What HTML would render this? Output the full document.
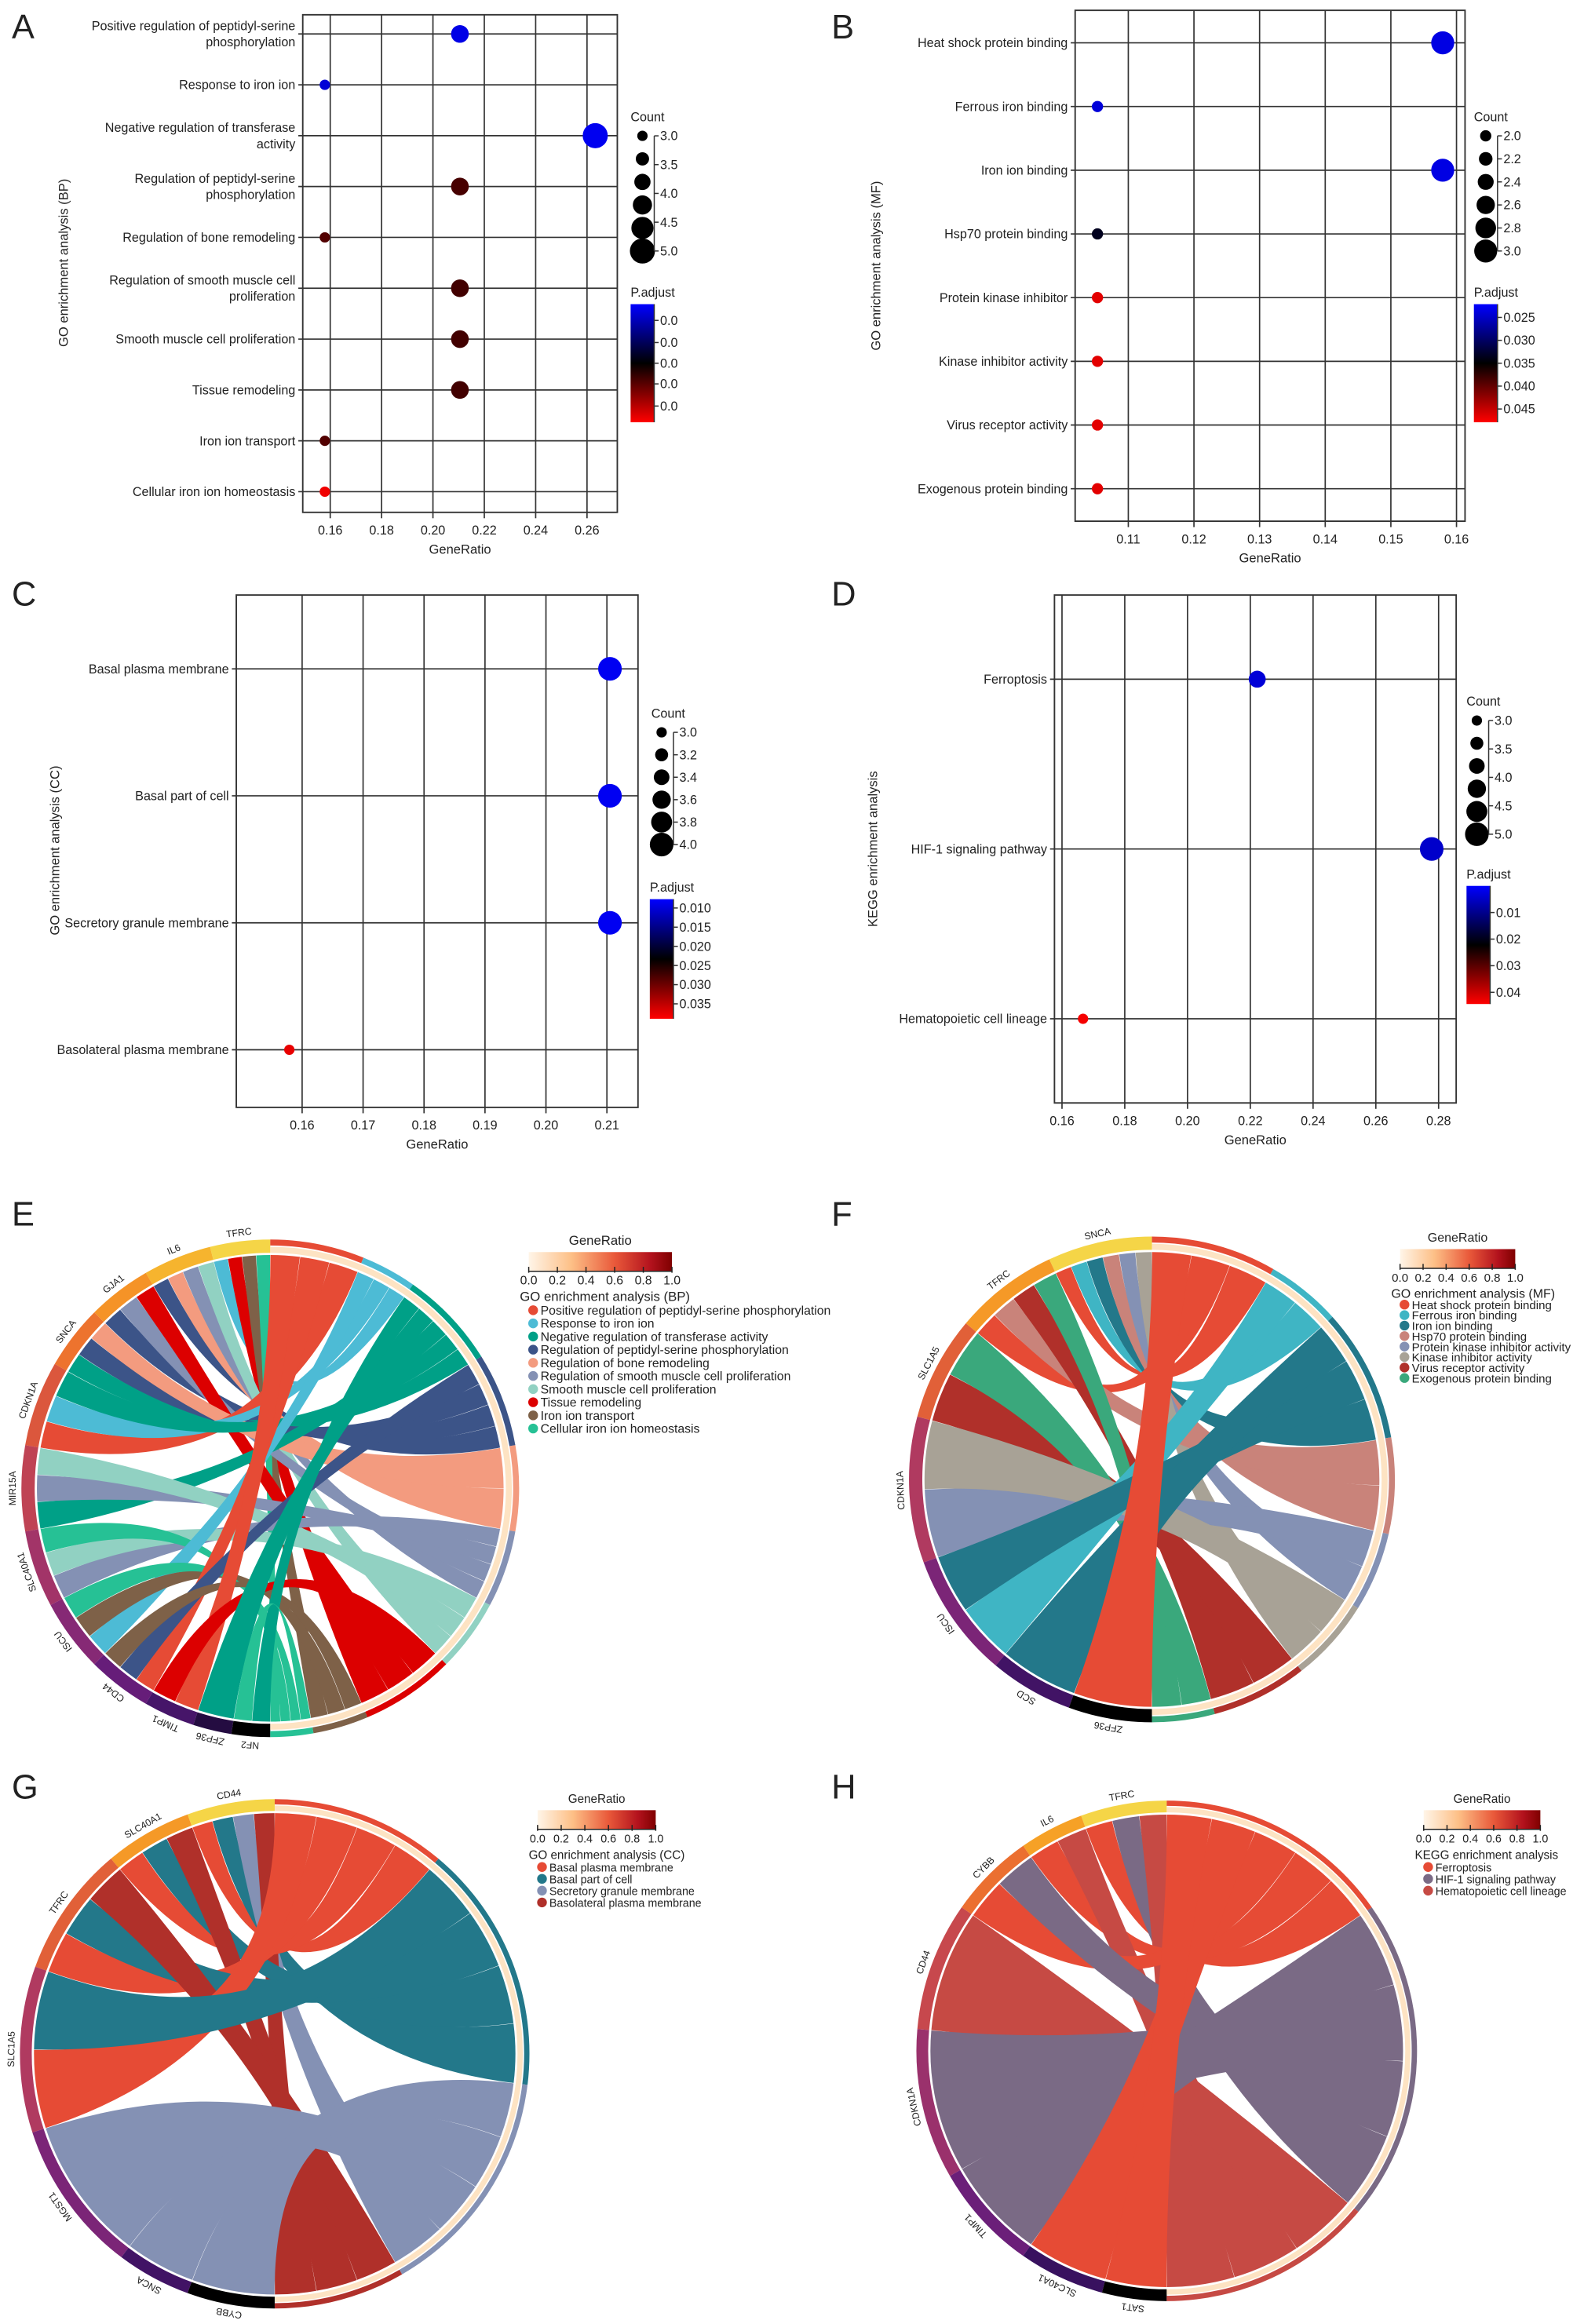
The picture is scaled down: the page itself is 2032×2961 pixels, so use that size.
<!DOCTYPE html>
<html><head><meta charset="utf-8">
<style>
html,body{margin:0;padding:0;background:#fff}
svg{display:block}
text{font-family:"Liberation Sans",sans-serif;fill:#222}
</style></head>
<body>
<svg id="fig" width="2032" height="2961" viewBox="0 0 1080 1574" preserveAspectRatio="none" xmlns="http://www.w3.org/2000/svg">
<defs>
<linearGradient id="padjGrad" x1="0" y1="0" x2="0" y2="1">
<stop offset="0" stop-color="#0000ff"/><stop offset="0.5" stop-color="#000000"/><stop offset="1" stop-color="#ff0000"/>
</linearGradient>
<linearGradient id="ratioGrad" x1="0" y1="0" x2="1" y2="0">
<stop offset="0" stop-color="#fff5e8"/><stop offset="0.3" stop-color="#fdbf86"/><stop offset="0.6" stop-color="#e9593a"/><stop offset="0.85" stop-color="#b3121d"/><stop offset="1" stop-color="#7f0000"/>
</linearGradient>
</defs>
</svg>
<script>
// ---------- DATA ----------
const aTerms=["Positive regulation of peptidyl-serine\nphosphorylation","Response to iron ion","Negative regulation of transferase\nactivity","Regulation of peptidyl-serine\nphosphorylation","Regulation of bone remodeling","Regulation of smooth muscle cell\nproliferation","Smooth muscle cell proliferation","Tissue remodeling","Iron ion transport","Cellular iron ion homeostasis"];
const aRatio=[0.2105,0.1579,0.2632,0.2105,0.1579,0.2105,0.2105,0.2105,0.1579,0.1579];
const aCount=[4,3,5,4,3,4,4,4,3,3];
const aPadj=[0.05,0.08,0.03,0.64,0.66,0.63,0.63,0.63,0.66,0.97];
const aXTicks=[0.16,0.18,0.20,0.22,0.24,0.26];
const aCntTicks=[3.0,3.5,4.0,4.5,5.0];
const aPTicks=[0.1375,0.325,0.5,0.675,0.8625];
const aPLabels=["0.0","0.0","0.0","0.0","0.0"];

const bTerms=["Heat shock protein binding","Ferrous iron binding","Iron ion binding","Hsp70 protein binding","Protein kinase inhibitor","Kinase inhibitor activity","Virus receptor activity","Exogenous protein binding"];
const bRatio=[0.1579,0.1053,0.1579,0.1053,0.1053,0.1053,0.1053,0.1053];
const bCount=[3,2,3,2,2,2,2,2];
const bPadj=[0.0235,0.0240,0.0235,0.0335,0.0465,0.0465,0.0465,0.0465];
const bXTicks=[0.11,0.12,0.13,0.14,0.15,0.16];
const bCntTicks=[2.0,2.2,2.4,2.6,2.8,3.0];
const bPTicks=[0.025,0.030,0.035,0.040,0.045];
const bPLabels=["0.025","0.030","0.035","0.040","0.045"];

const cTerms=["Basal plasma membrane","Basal part of cell","Secretory granule membrane","Basolateral plasma membrane"];
const cRatio=[0.2105,0.2105,0.2105,0.1579];
const cCount=[4,4,4,3];
const cPadj=[0.0085,0.0085,0.0085,0.0375];
const cXTicks=[0.16,0.17,0.18,0.19,0.20,0.21];
const cCntTicks=[3.0,3.2,3.4,3.6,3.8,4.0];
const cPTicks=[0.010,0.015,0.020,0.025,0.030,0.035];
const cPLabels=["0.010","0.015","0.020","0.025","0.030","0.035"];

const dTerms=["Ferroptosis","HIF-1 signaling pathway","Hematopoietic cell lineage"];
const dRatio=[0.2222,0.2778,0.1667];
const dCount=[4,5,3];
const dPadj=[0.0035,0.0045,0.0435];
const dXTicks=[0.16,0.18,0.20,0.22,0.24,0.26,0.28];
const dCntTicks=[3.0,3.5,4.0,4.5,5.0];
const dPTicks=[0.01,0.02,0.03,0.04];
const dPLabels=["0.01","0.02","0.03","0.04"];

const eGenes=["TFRC","IL6","GJA1","SNCA","CDKN1A","MIR15A","SLC40A1","ISCU","CD44","TIMP1","ZFP36","NF2"];
const eGeneW=[14,16,15,15,20,20,18,17,15,12,9,9];
const eTerms=aTerms.map(s=>s.replace("\n"," "));
const eTermW=[22,13,23,22,20,18,17,22,13,10];
const eLinks=[[0,1],[0,7],[0,8],[0,9],[1,3],[1,4],[1,5],[1,6],[2,3],[2,5],[2,7],[3,2],[3,3],[3,4],[4,0],[4,1],[4,2],[5,2],[5,5],[5,6],[6,5],[6,6],[6,9],[7,1],[7,8],[7,9],[8,0],[8,3],[8,8],[9,0],[9,7],[10,2],[11,2],[11,9]];

const fGenes=["SNCA","TFRC","SLC1A5","CDKN1A","ISCU","SCD","ZFP36"];
const fGeneW=[25,25,25,35,30,20,20];
const fTerms=["Heat shock protein binding","Ferrous iron binding","Iron ion binding","Hsp70 protein binding","Protein kinase inhibitor activity","Kinase inhibitor activity","Virus receptor activity","Exogenous protein binding"];
const fTermW=[30,18,32,23,19,20,23,15];
const fLinks=[[0,0],[0,1],[0,2],[0,3],[0,4],[0,5],[1,0],[1,3],[1,6],[1,7],[2,6],[2,7],[3,4],[3,5],[4,1],[4,2],[5,2],[6,0]];

const gGenes=["CD44","SLC40A1","TFRC","SLC1A5","MGST1","SNCA","CYBB"];
const gGeneW=[20,20,30,38,35,17,20];
const gTerms=["Basal plasma membrane","Basal part of cell","Secretory granule membrane","Basolateral plasma membrane"];
const gTermW=[40,57,53,30];
const gLinks=[[0,0],[0,1],[0,2],[0,3],[1,0],[1,1],[1,3],[2,0],[2,1],[2,3],[3,0],[3,1],[4,2],[5,2],[6,2]];

const hGenes=["TFRC","IL6","CYBB","CD44","CDKN1A","TIMP1","SLC40A1","SAT1"];
const hGeneW=[20,15,20,30,35,25,20,15];
const hTerms=["Ferroptosis","HIF-1 signaling pathway","Hematopoietic cell lineage"];
const hTermW=[55,75,50];
const hLinks=[[0,0],[0,1],[0,2],[1,0],[1,2],[2,0],[2,1],[3,2],[4,1],[5,1],[6,0],[7,0]];

const ratioTicks=[0.0,0.2,0.4,0.6,0.8,1.0];

// ---------- RENDER ----------
const NS='http://www.w3.org/2000/svg';
const svg=document.getElementById('fig');
function mk(tag,attrs,parent,txt){const e=document.createElementNS(NS,tag);for(const k in attrs)e.setAttribute(k,attrs[k]);if(txt!==undefined)e.textContent=txt;(parent||svg).appendChild(e);return e;}
function hex(c){return '#'+c.map(v=>Math.round(Math.max(0,Math.min(255,v))).toString(16).padStart(2,'0')).join('');}
function padjColor(t){t=Math.max(0,Math.min(1,t));if(t<=0.5){const u=t/0.5;return hex([0,0,255*(1-u)]);}const u=(t-0.5)/0.5;return hex([255*u,0,0]);}

function drawDot(id,terms,ratio,count,padj,xticks,cntTicks,pTicks,pLabels,L){
  const g=mk('g',{});
  
  
  const bx=L.box[0],by=L.box[1],bw=L.box[2],bh=L.box[3];
  const xs=v=>bx+(v-L.xdom[0])/(L.xdom[1]-L.xdom[0])*bw;
  const n=terms.length;
  const ys=i=>n===1?(L.rows[0]+L.rows[1])/2:L.rows[0]+i*(L.rows[1]-L.rows[0])/(n-1);
  xticks.forEach(v=>{
    const ln=mk('line',{x1:xs(v),x2:xs(v),y1:by,y2:by+bh,stroke:'#333','stroke-width':0.9},g);
    
    
    const tk=mk('line',{x1:xs(v),x2:xs(v),y1:by+bh,y2:by+bh+4,stroke:'#333','stroke-width':0.9},g);
    
    
    const tl=mk('text',{x:xs(v),y:by+bh+15,'font-size':8.6,'text-anchor':'middle'},g,v.toFixed(2));
    
    
  });
  terms.forEach((t,i)=>{
    const y=ys(i);
    const ln=mk('line',{x1:bx-3,x2:bx+bw,y1:y,y2:y,stroke:'#333','stroke-width':0.9},g);
    
    
    const lines=t.split('\n');
    lines.forEach((s,k)=>{
      const tx=mk('text',{x:bx-5,y:y+(k-(lines.length-1)/2)*11+3,'font-size':8.6,'text-anchor':'end'},g,s);
      
      
    });
  });
  const box=mk('rect',{x:bx,y:by,width:bw,height:bh,fill:'none',stroke:'#333','stroke-width':1},g);
  
  
  const xt=mk('text',{x:bx+bw/2,y:by+bh+28,'font-size':8.8,'text-anchor':'middle'},g,'GeneRatio');
  
  
  const yt=mk('text',{x:0,y:0,'font-size':8.8,'text-anchor':'middle',transform:`translate(${L.ytitle[0]},${L.ytitle[1]}) rotate(-90)`},g,L.ytitleText);
  
  
  const cmin=cntTicks[0],cmax=cntTicks[cntTicks.length-1];
  const rs=c=>L.r[0]+(c-cmin)/(cmax-cmin)*(L.r[1]-L.r[0]);
  const pt=p=>(p-L.pdom[0])/(L.pdom[1]-L.pdom[0]);
  terms.forEach((t,i)=>{
    const c=mk('circle',{cx:xs(ratio[i]),cy:ys(i),r:rs(count[i]),fill:padjColor(pt(padj[i]))},g);
    
    
  });
  const C=L.cnt;
  const ct=mk('text',{x:C.tx,y:C.ty,'font-size':8.6},g,'Count');
  
  
  const cy=v=>C.y0+(v-cmin)/(cmax-cmin)*(C.y1-C.y0);
  for(let k=0;k<6;k++){
    const v=cmin+k*(cmax-cmin)/5;
    const lc=mk('circle',{cx:C.cx,cy:cy(v),r:rs(v),fill:'#000'},g);
    
    
  }
  const br=mk('line',{x1:C.cx+8,x2:C.cx+8,y1:cy(cmin),y2:cy(cmax),stroke:'#333','stroke-width':0.8},g);
  
  
  cntTicks.forEach(v=>{
    mk('line',{x1:C.cx+8,x2:C.cx+11,y1:cy(v),y2:cy(v),stroke:'#333','stroke-width':0.8},g);
    const lt=mk('text',{x:C.cx+12,y:cy(v)+3,'font-size':8.6},g,v.toFixed(1));
    
    
  });
  const P=L.pbar;
  const pt2=mk('text',{x:P[0],y:P[1]-5,'font-size':8.6},g,'P.adjust');
  
  
  const bar=mk('rect',{x:P[0],y:P[1],width:P[2],height:P[3],fill:'url(#padjGrad)'},g);
  
  
  mk('line',{x1:P[0]+P[2],x2:P[0]+P[2],y1:P[1],y2:P[1]+P[3],stroke:'#333','stroke-width':0.8},g);
  pTicks.forEach((v,k)=>{
    const y=P[1]+pt(v)*P[3];
    mk('line',{x1:P[0]+P[2],x2:P[0]+P[2]+3,y1:y,y2:y,stroke:'#333','stroke-width':0.8},g);
    const lt=mk('text',{x:P[0]+P[2]+4,y:y+3,'font-size':8.6},g,pLabels[k]);
    
    
  });
}

drawDot('panel-a',aTerms,aRatio,aCount,aPadj,aXTicks,aCntTicks,aPTicks,aPLabels,
 {box:[205,10,213,337],xdom:[0.1493,0.2718],rows:[23,333],ytitle:[46,178],ytitleText:'GO enrichment analysis (BP)',r:[3.5,8.5],pdom:[0,1],
  cnt:{tx:427,ty:82,cx:435,y0:92,y1:170},pbar:[427,206,16,80]});
drawDot('panel-b',bTerms,bRatio,bCount,bPadj,bXTicks,bCntTicks,bPTicks,bPLabels,
 {box:[728,7,264,346],xdom:[0.1019,0.1613],rows:[29,331],ytitle:[596,180],ytitleText:'GO enrichment analysis (MF)',r:[3.8,7.8],pdom:[0.0221,0.0479],
  cnt:{tx:998,ty:82,cx:1006,y0:92,y1:170},pbar:[998,206,16,80]});
drawDot('panel-c',cTerms,cRatio,cCount,cPadj,cXTicks,cCntTicks,cPTicks,cPLabels,
 {box:[160,403,272,347],xdom:[0.1492,0.2151],rows:[453,711],ytitle:[40,576],ytitleText:'GO enrichment analysis (CC)',r:[3.5,8],pdom:[0.0077,0.0389],
  cnt:{tx:441,ty:486,cx:448,y0:496,y1:572},pbar:[440,609,16,81]});
drawDot('panel-d',dTerms,dRatio,dCount,dPadj,dXTicks,dCntTicks,dPTicks,dPLabels,
 {box:[714,403,272,344],xdom:[0.1576,0.2856],rows:[460,690],ytitle:[594,575],ytitleText:'KEGG enrichment analysis',r:[3.5,8],pdom:[0,0.0444],
  cnt:{tx:993,ty:478,cx:1000,y0:488,y1:565},pbar:[993,600,16,80]});

// ---------- CHORDS ----------
const geneStops=[[245,213,71],[247,168,37],[242,122,42],[217,83,63],[176,58,96],[138,42,117],[94,26,122],[50,16,90],[0,0,0]];
function geneColor(f){const p=f*(geneStops.length-1);const i=Math.min(geneStops.length-2,Math.floor(p));const u=p-i;const a=geneStops[i],b=geneStops[i+1];return hex([a[0]+(b[0]-a[0])*u,a[1]+(b[1]-a[1])*u,a[2]+(b[2]-a[2])*u]);}
function P(cx,cy,r,t){return [cx+r*Math.sin(t),cy-r*Math.cos(t)];}
function annulus(cx,cy,r1,r2,t1,t2){
  const a=P(cx,cy,r2,t1),b=P(cx,cy,r2,t2),c=P(cx,cy,r1,t2),d=P(cx,cy,r1,t1);const lg=(t2-t1)>Math.PI?1:0;
  return `M${a[0]},${a[1]}A${r2},${r2} 0 ${lg} 1 ${b[0]},${b[1]}L${c[0]},${c[1]}A${r1},${r1} 0 ${lg} 0 ${d[0]},${d[1]}Z`;
}
function drawChord(id,cx,cy,R0,genes,geneW,terms,termW,links,tcol,gw){
  const g=mk('g',{});
  
  
  const gSum=geneW.reduce((a,b)=>a+b,0),tSum=termW.reduce((a,b)=>a+b,0);
  const gArc=geneW.map(w=>w/gSum*Math.PI),tArc=termW.map(w=>w/tSum*Math.PI);
  const gCount=genes.map((_,i)=>links.filter(l=>l[0]===i).length);
  const tCount=terms.map((_,j)=>links.filter(l=>l[1]===j).length);
  const gHi=[];let h=2*Math.PI;genes.forEach((_,i)=>{gHi.push(h);h-=gArc[i];});
  const tLo=[];let lo=0;terms.forEach((_,j)=>{tLo.push(lo);lo+=tArc[j];});
  const gi={},ti={};const gUsed=genes.map(()=>0),tUsed=terms.map(()=>0);
  links.map((l,k)=>({l,k})).sort((a,b)=>a.l[0]-b.l[0]||b.l[1]-a.l[1]).forEach(o=>{gi[o.k]=gUsed[o.l[0]]++;});
  links.map((l,k)=>({l,k})).sort((a,b)=>a.l[1]-b.l[1]||b.l[0]-a.l[0]).forEach(o=>{ti[o.k]=tUsed[o.l[1]]++;});
  const pad=0.0008;
  links.forEach((l,k)=>{
    const gu=gArc[l[0]]/gCount[l[0]],tu=tArc[l[1]]/tCount[l[1]];
    const a2=gHi[l[0]]-gi[k]*gu-pad,a1=gHi[l[0]]-(gi[k]+1)*gu+pad;
    const b1=tLo[l[1]]+ti[k]*tu+pad,b2=tLo[l[1]]+(ti[k]+1)*tu-pad;
    const A1=P(cx,cy,R0,a1),A2=P(cx,cy,R0,a2),B1=P(cx,cy,R0,b1),B2=P(cx,cy,R0,b2);
    const la=(a2-a1)>Math.PI?1:0,lb=(b2-b1)>Math.PI?1:0;
    const d=`M${A1[0]},${A1[1]}A${R0},${R0} 0 ${la} 1 ${A2[0]},${A2[1]}Q${cx},${cy} ${B1[0]},${B1[1]}A${R0},${R0} 0 ${lb} 1 ${B2[0]},${B2[1]}Q${cx},${cy} ${A1[0]},${A1[1]}Z`;
    const rb=mk('path',{d,fill:tcol[l[1]]},g);
    
    
  });
  genes.forEach((name,i)=>{
    const t2=gHi[i],t1=gHi[i]-gArc[i];
    const seg=mk('path',{d:annulus(cx,cy,R0+1.5,R0+1.5+gw,t1,t2),fill:geneColor(genes.length>1?i/(genes.length-1):0)},g);
    
    
    const tm=(t1+t2)/2,p=P(cx,cy,R0+gw+7,tm);
    const lb=mk('text',{x:0,y:0,'font-size':6.5,'text-anchor':'middle','dominant-baseline':'middle','font-family':'"Liberation Serif",serif',transform:`translate(${p[0]},${p[1]}) rotate(${tm*180/Math.PI-360})`},g,name);
    
    
  });
  const bg=mk('path',{d:annulus(cx,cy,R0+1.5,R0+1.5+gw*0.45,0.0001,Math.PI-0.0001),fill:'#fde3c3'},g);
  
  
  terms.forEach((name,j)=>{
    const t1=tLo[j],t2=tLo[j]+tArc[j];
    const seg=mk('path',{d:annulus(cx,cy,R0+1.5+gw*0.55,R0+1.5+gw,t1,t2),fill:tcol[j]},g);
    
    
  });
}
function chordLegend(id,x,y,w,title,terms,tcol,fs,step){
  const g=mk('g',{});
  
  
  const t=mk('text',{x:x+w/2,y:y,'font-size':fs+0.5,'text-anchor':'middle'},g,'GeneRatio');
  
  
  const bar=mk('rect',{x:x,y:y+5,width:w,height:13,fill:'url(#ratioGrad)'},g);
  
  
  mk('line',{x1:x,x2:x+w,y1:y+18,y2:y+18,stroke:'#222','stroke-width':0.8},g);
  ratioTicks.forEach(v=>{
    const xx=x+v*w;
    mk('line',{x1:xx,x2:xx,y1:y+15,y2:y+19,stroke:'#222','stroke-width':0.8},g);
    const tl=mk('text',{x:xx,y:y+27,'font-size':fs,'text-anchor':'middle'},g,v.toFixed(1));
    
    
  });
  const tt=mk('text',{x:x-6,y:y+38,'font-size':fs+0.5},g,title);
  
  
  terms.forEach((s,j)=>{
    const yy=y+38+step*(j+1);
    const dot=mk('circle',{cx:x+3,cy:yy-2.5,r:3.3,fill:tcol[j]},g);
    
    
    const lt=mk('text',{x:x+8,y:yy+0.5,'font-size':fs},g,s);
    
    
  });
}
const eCol=['#e64b35','#4dbbd5','#00a087','#3c5488','#f39b7f','#8491b4','#91d1c2','#dc0000','#7e6148','#26c195'];
const fCol=['#e64b35','#3fb5c4','#23788a','#c9837a','#8491b4','#a8a296','#b0302a','#3aa87c'];
const gCol=['#e64b35','#23788a','#8491b4','#b0302a'];
const hCol=['#e64b35','#7a6a85','#c64a44'];
drawChord('panel-e',183,1008,158,eGenes,eGeneW,eTerms,eTermW,eLinks,eCol,9);
drawChord('panel-f',780,1002,154,fGenes,fGeneW,fTerms,fTermW,fLinks,fCol,9);
drawChord('panel-g',186,1391,163,gGenes,gGeneW,gTerms,gTermW,gLinks,gCol,8);
drawChord('panel-h',790,1389,160,hGenes,hGeneW,hTerms,hTermW,hLinks,hCol,8);
chordLegend('panel-e',358,843,97,'GO enrichment analysis (BP)',eTerms,eCol,8.4,8.9);
chordLegend('panel-f',948,841,78,'GO enrichment analysis (MF)',fTerms,fCol,8,7.1);
chordLegend('panel-g',364,1221,80,'GO enrichment analysis (CC)',gTerms,gCol,7.6,8);
chordLegend('panel-h',964,1221,79,'KEGG enrichment analysis',hTerms,hCol,7.6,8);

const letters=[['A',8,26],['B',563,26],['C',8,410],['D',563,410],['E',8,830],['F',563,830],['G',8,1218],['H',563,1218]];
letters.forEach(l=>{
  const t=mk('text',{x:l[1],y:l[2],'font-size':23},svg,l[0]);
  
  
});
</script>
</body></html>
